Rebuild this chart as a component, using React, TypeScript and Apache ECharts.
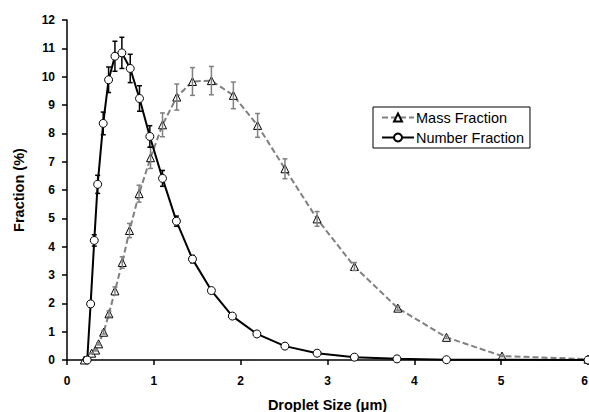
import React, { useEffect, useRef } from "react";
import * as echarts from "echarts";

const massX = [0.2, 0.284, 0.33, 0.364, 0.422, 0.483, 0.552, 0.636, 0.72, 0.83, 0.962, 1.1, 1.264, 1.445, 1.663, 1.916, 2.195, 2.51, 2.88, 3.31, 3.81, 4.37, 5.01, 6.0];
const massY = [0, 0.24, 0.35, 0.57, 0.98, 1.63, 2.44, 3.44, 4.57, 5.87, 7.14, 8.3, 9.28, 9.83, 9.86, 9.34, 8.28, 6.75, 4.98, 3.3, 1.83, 0.8, 0.14, 0.03];
const massErr = [0, 0.02, 0.03, 0.04, 0.06, 0.1, 0.14, 0.2, 0.25, 0.3, 0.38, 0.42, 0.46, 0.49, 0.5, 0.47, 0.42, 0.35, 0.26, 0.14, 0.07, 0.04, 0.02, 0];

const numX = [0.233, 0.272, 0.314, 0.353, 0.417, 0.479, 0.552, 0.632, 0.728, 0.835, 0.954, 1.1, 1.26, 1.445, 1.663, 1.904, 2.187, 2.51, 2.88, 3.31, 3.8, 4.37, 6.0];
const numY = [0, 1.98, 4.22, 6.2, 8.35, 9.89, 10.72, 10.84, 10.29, 9.23, 7.89, 6.41, 4.9, 3.56, 2.45, 1.55, 0.92, 0.49, 0.24, 0.1, 0.04, 0.01, 0];
const numErr = [0, 0.1, 0.2, 0.32, 0.4, 0.45, 0.53, 0.55, 0.5, 0.45, 0.38, 0.28, 0.18, 0.13, 0.08, 0.05, 0.03, 0.02, 0.01, 0, 0, 0, 0];

const seriesNames = ["Mass Fraction", "Number Fraction"];
const xAxisTitle = "Droplet Size (μm)";
const yAxisTitle = "Fraction (%)";

const FONT = "'Liberation Sans', Arial, sans-serif";

function errorBarRender(color: string) {
  return (params: any, api: any) => {
    const x = api.value(0);
    const y = api.value(1);
    const e = api.value(2);
    if (!e) return { type: "group", children: [] };
    const top = api.coord([x, y + e]);
    const bot = api.coord([x, y - e]);
    const hw = 2.5;
    const style = { stroke: color, lineWidth: 1.5 };
    return {
      type: "group",
      children: [
        { type: "line", shape: { x1: top[0], y1: top[1], x2: bot[0], y2: bot[1] }, style },
        { type: "line", shape: { x1: top[0] - hw, y1: top[1], x2: top[0] + hw, y2: top[1] }, style },
        { type: "line", shape: { x1: bot[0] - hw, y1: bot[1], x2: bot[0] + hw, y2: bot[1] }, style },
      ],
    };
  };
}

export default function App() {
  const ref = useRef<HTMLDivElement>(null);
  useEffect(() => {
    if (!ref.current) return;
    const chart = echarts.init(ref.current, null, { renderer: "svg" });
    const massData = massX.map((x, i) => [x, massY[i]]);
    const numData = numX.map((x, i) => [x, numY[i]]);
    const massErrData = massX.map((x, i) => [x, massY[i], massErr[i]]);
    const numErrData = numX.map((x, i) => [x, numY[i], numErr[i]]);
    chart.setOption({
      animation: false,
      textStyle: { fontFamily: FONT },
      grid: { left: 67, right: 1, top: 20, bottom: 52, containLabel: false, outerBoundsMode: "none" },
      legend: {
        data: seriesNames,
        orient: "vertical",
        left: 373,
        top: 107,
        padding: [3, 6, 3, 8],
        itemGap: 5,
        itemWidth: 32,
        itemHeight: 10,
        borderColor: "#000",
        borderWidth: 1,
        borderRadius: 0,
        textStyle: { fontFamily: FONT, fontSize: 14.5, color: "#000", padding: [0, 0, 0, -3] },
      },
      xAxis: {
        type: "value",
        min: 0,
        max: 6,
        interval: 1,
        name: xAxisTitle,
        nameLocation: "middle",
        nameGap: 37,
        nameTextStyle: { fontFamily: FONT, fontSize: 14.5, fontWeight: "bold", color: "#000" },
        axisLine: { lineStyle: { color: "#000", width: 1.5 } },
        axisTick: { show: true, inside: false, length: 5, lineStyle: { color: "#000", width: 1.5 } },
        axisLabel: { fontFamily: FONT, fontSize: 12, fontWeight: "bold", color: "#000", margin: 15, alignMaxLabel: "right" },
        splitLine: { show: false },
      },
      yAxis: {
        type: "value",
        min: 0,
        max: 12,
        interval: 1,
        name: yAxisTitle,
        nameLocation: "middle",
        nameGap: 41,
        nameTextStyle: { fontFamily: FONT, fontSize: 14.5, fontWeight: "bold", color: "#000" },
        axisLine: { show: true, lineStyle: { color: "#000", width: 1.5 } },
        axisTick: { show: true, inside: false, length: 5, lineStyle: { color: "#000", width: 1.5 } },
        axisLabel: { fontFamily: FONT, fontSize: 12, fontWeight: "bold", color: "#000", margin: 12 },
        splitLine: { show: false },
      },
      series: [
        {
          name: "massErr",
          type: "custom",
          renderItem: errorBarRender("#808080"),
          data: massErrData,
          encode: { x: 0, y: 1 },
          z: 3,
          silent: true,
        },
        {
          name: "numErr",
          type: "custom",
          renderItem: errorBarRender("#000"),
          data: numErrData,
          encode: { x: 0, y: 1 },
          z: 3,
          silent: true,
        },
        {
          name: seriesNames[0],
          type: "line",
          data: massData,
          symbol: "triangle",
          symbolSize: 8,
          lineStyle: { color: "#808080", width: 2, type: [6, 3] },
          itemStyle: { color: "#fff", borderColor: "#000", borderWidth: 1 },
          z: 2,
        },
        {
          name: seriesNames[1],
          type: "line",
          data: numData,
          symbol: "circle",
          symbolSize: 8,
          lineStyle: { color: "#000", width: 2 },
          itemStyle: { color: "#fff", borderColor: "#000", borderWidth: 1 },
          z: 4,
        },
      ],
    });
    return () => chart.dispose();
  }, []);
  return (
    <div
      ref={ref}
      style={{ position: "absolute", left: 0, top: 0, width: 589, height: 412, background: "#fff" }}
    />
  );
}
